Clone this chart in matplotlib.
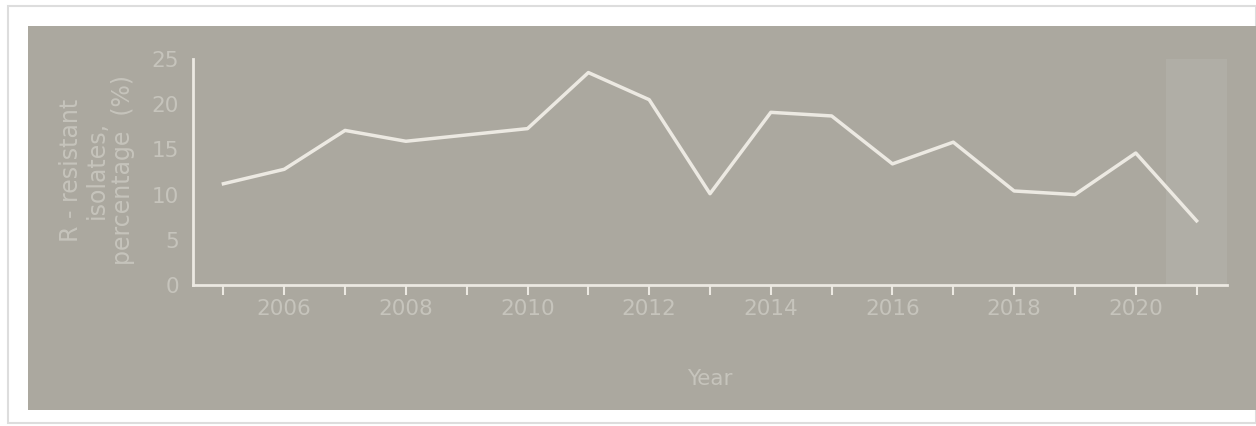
import matplotlib.pyplot as plt
from matplotlib.patches import Rectangle

years = [2005, 2006, 2007, 2008, 2009, 2010, 2011, 2012, 2013,
         2014, 2015, 2016, 2017, 2018, 2019, 2020, 2021]
resistant_pct = [11.2, 12.8, 17.1, 15.9, 16.6, 17.3, 23.5, 20.5, 10.1,
                 19.1, 18.7, 13.4, 15.8, 10.4, 10.0, 14.6, 7.1]
x_labels = [2006, 2008, 2010, 2012, 2014, 2016, 2018, 2020]
y_ticks = [0, 5, 10, 15, 20, 25]

panel = '#aba89f'
text_col = '#c6c4bc'
line_col = '#ece9e2'

W, H = 1256, 426
fig = plt.figure(figsize=(W / 100, H / 100), dpi=100)
fig.patch.set_facecolor('white')

# outer frame and grey panel, kept behind the axes
fig.patches.append(Rectangle((8 / W, 3 / H), 1 - 8 / W, 1 - 9 / H,
                             transform=fig.transFigure, facecolor='white',
                             edgecolor='#dddddd', linewidth=1.5, zorder=-3))
fig.patches.append(Rectangle((28 / W, 16 / H), (W - 28) / W, 384 / H,
                             transform=fig.transFigure, facecolor=panel,
                             edgecolor='none', zorder=-2))

ax = fig.add_axes([193 / W, (H - 285) / H, (1227 - 193) / W, (285 - 59) / H])
ax.set_facecolor('none')

ax.axvspan(2020.5, 2021.5, ymin=0, ymax=1, color='#b0aea6', zorder=0, lw=0)
ax.plot(years, resistant_pct, color=line_col, linewidth=2.5, zorder=3)

ax.set_xlim(2004.5, 2021.5)
ax.set_ylim(0, 25)

for s in ['top', 'right']:
    ax.spines[s].set_visible(False)
for s in ['left', 'bottom']:
    ax.spines[s].set_color(line_col)
    ax.spines[s].set_linewidth(2)

ax.set_xticks(years)
ax.set_xticklabels([str(y) if y in x_labels else '' for y in years])
ax.set_yticks(y_ticks)
ax.tick_params(axis='x', colors=line_col, length=7, width=1.5,
               labelcolor=text_col, labelsize=15.5, pad=3)
ax.tick_params(axis='y', length=0, labelcolor=text_col, labelsize=15.5, pad=10)

ax.set_xlabel('Year', color=text_col, fontsize=15.5, labelpad=36)
fig.text(97 / W, (H - 170) / H, 'R - resistant\nisolates,\npercentage  (%)',
         rotation=90, ha='center', va='center', color=text_col,
         fontsize=17, multialignment='center', linespacing=1.1)

fig.savefig('out.png', dpi=100, facecolor='white')
